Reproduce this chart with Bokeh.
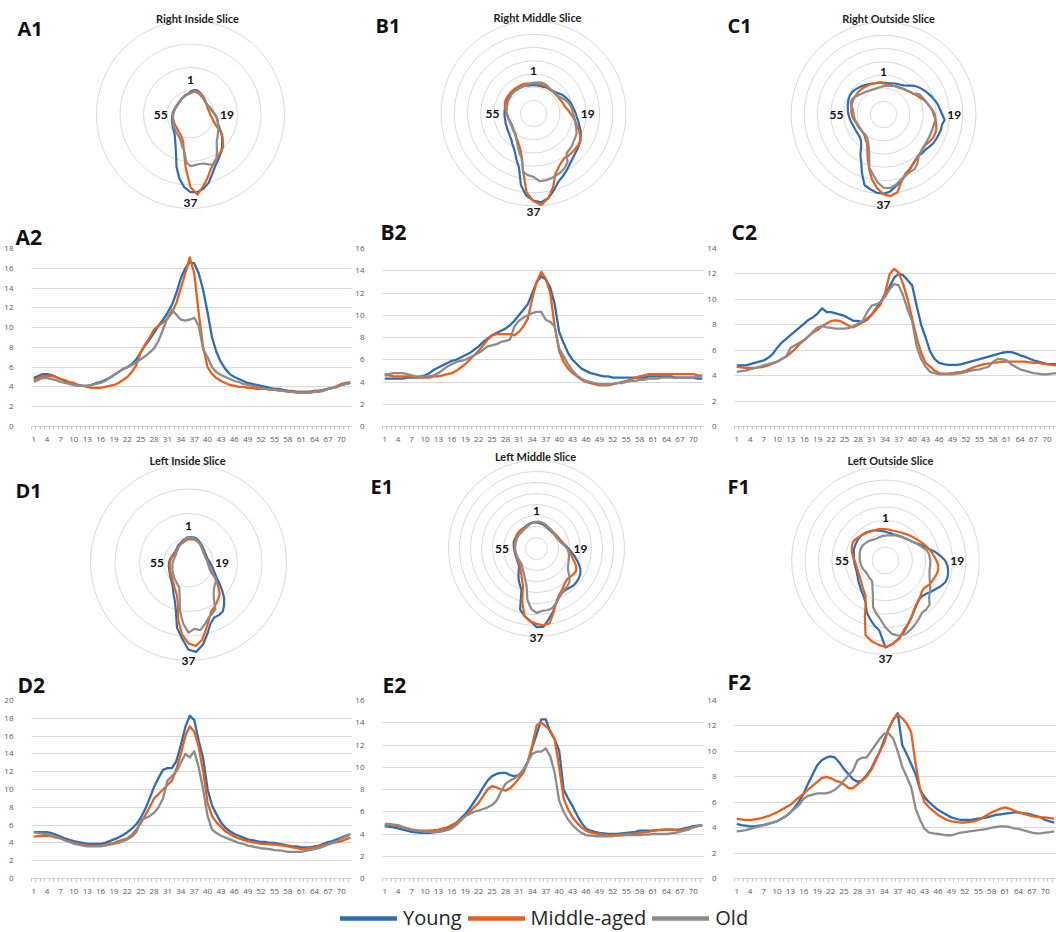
import numpy as np
from bokeh.plotting import figure
from bokeh.layouts import column, row
from bokeh.models import Label, FixedTicker, Range1d, Legend, LegendItem
from bokeh.core.properties import value
from bokeh.embed import file_html
from bokeh.resources import INLINE

# ---------------- data (positions 1..72) ----------------
positions = list(range(1, 73))
x_tick_labels = list(range(1, 71, 3))
series_names = ["Young", "Middle-aged", "Old"]

young_A = [4.9,5.1,5.3,5.3,5.2,5.0,4.8,4.6,4.4,4.2,4.1,4.1,
           4.1,4.2,4.4,4.5,4.7,4.9,5.2,5.5,5.8,6.0,6.3,6.8,
           7.5,8.2,8.8,9.5,10.2,10.8,11.5,12.3,13.5,15.0,16.0,16.6,
           16.5,15.5,13.8,11.5,9.0,7.5,6.5,5.8,5.3,5.0,4.8,4.6,
           4.4,4.3,4.2,4.1,4.0,3.9,3.8,3.8,3.7,3.6,3.6,3.5,
           3.5,3.5,3.5,3.6,3.6,3.7,3.8,3.9,4.0,4.2,4.3,4.4]
middle_A = [4.7,4.9,5.1,5.1,5.1,5.0,4.8,4.7,4.5,4.4,4.2,4.1,
            4.0,3.9,3.9,3.9,4.0,4.1,4.2,4.4,4.7,5.0,5.5,6.2,
            7.5,8.3,9.0,9.8,10.2,10.5,10.9,11.5,12.5,14.0,15.5,17.1,
            15.5,11.5,8.0,6.0,5.3,4.9,4.6,4.4,4.2,4.1,4.0,4.0,
            3.9,3.9,3.8,3.8,3.8,3.7,3.7,3.7,3.6,3.6,3.5,3.5,
            3.5,3.5,3.5,3.6,3.6,3.7,3.8,3.9,4.1,4.3,4.4,4.5]
old_A = [4.5,4.7,4.9,4.9,4.8,4.7,4.5,4.4,4.3,4.2,4.1,4.1,
         4.1,4.2,4.3,4.4,4.6,4.9,5.2,5.5,5.8,6.0,6.2,6.5,
         6.8,7.1,7.5,7.9,8.7,9.8,11.0,11.8,11.3,10.8,10.7,10.8,
         11.0,10.2,7.8,7.0,6.0,5.5,5.2,5.0,4.8,4.6,4.5,4.3,
         4.2,4.1,4.0,3.9,3.8,3.8,3.7,3.6,3.6,3.5,3.5,3.4,
         3.4,3.4,3.4,3.5,3.5,3.6,3.8,3.9,4.0,4.2,4.3,4.4]

young_B = [4.3,4.3,4.3,4.3,4.3,4.4,4.4,4.4,4.5,4.6,4.8,5.1,
           5.3,5.5,5.7,5.9,6.0,6.2,6.4,6.6,6.9,7.2,7.6,7.9,
           8.2,8.4,8.6,8.8,9.1,9.5,10.0,10.5,11.0,12.0,13.0,13.5,
           13.2,12.5,11.0,8.5,7.5,6.6,6.0,5.6,5.2,5.0,4.8,4.7,
           4.6,4.5,4.5,4.4,4.4,4.4,4.4,4.4,4.4,4.4,4.4,4.5,
           4.5,4.5,4.5,4.5,4.5,4.4,4.4,4.4,4.4,4.4,4.3,4.3]
middle_B = [4.6,4.6,4.5,4.5,4.5,4.5,4.5,4.4,4.4,4.4,4.4,4.5,
            4.5,4.6,4.7,4.8,5.0,5.3,5.6,6.0,6.4,6.8,7.3,7.8,
            8.2,8.3,8.3,8.3,8.3,8.2,8.5,9.0,9.7,11.5,13.0,13.9,
            13.3,12.0,9.0,6.8,5.8,5.2,4.8,4.5,4.2,4.0,3.9,3.8,
            3.7,3.7,3.7,3.8,3.9,4.0,4.1,4.2,4.4,4.5,4.6,4.7,
            4.7,4.7,4.7,4.7,4.7,4.7,4.7,4.7,4.7,4.7,4.6,4.6]
old_B = [4.7,4.7,4.8,4.8,4.8,4.7,4.6,4.5,4.5,4.5,4.5,4.6,
         4.8,5.1,5.4,5.6,5.8,5.9,6.0,6.2,6.4,6.6,6.9,7.2,
         7.3,7.4,7.6,7.7,7.8,9.0,9.5,9.8,10.0,10.2,10.3,10.3,
         9.6,9.4,9.0,7.0,6.3,5.6,5.0,4.6,4.3,4.1,4.0,3.9,
         3.8,3.8,3.8,3.8,3.9,3.9,4.0,4.1,4.1,4.2,4.2,4.3,
         4.3,4.3,4.4,4.4,4.4,4.4,4.4,4.4,4.4,4.4,4.5,4.5]

young_C = [4.8,4.8,4.8,4.9,5.0,5.1,5.2,5.4,5.7,6.2,6.6,6.9,
           7.2,7.5,7.8,8.1,8.4,8.6,8.9,9.3,9.0,9.0,8.9,8.8,
           8.7,8.5,8.3,8.3,8.2,8.4,8.8,9.3,9.8,10.4,11.0,11.7,
           12.0,11.9,11.5,11.1,9.5,8.0,7.0,5.9,5.3,5.0,4.9,4.85,
           4.85,4.85,4.9,5.0,5.1,5.2,5.3,5.4,5.5,5.6,5.7,5.8,
           5.85,5.85,5.75,5.6,5.5,5.35,5.2,5.1,5.0,4.9,4.9,4.9]
middle_C = [4.7,4.65,4.6,4.6,4.6,4.65,4.7,4.8,4.95,5.1,5.3,5.5,
            5.8,6.1,6.5,6.8,7.1,7.4,7.6,7.9,8.1,8.3,8.35,8.3,
            8.1,7.9,7.8,8.0,8.2,8.5,8.8,9.2,9.6,10.5,12.0,12.4,
            12.1,11.2,10.0,8.5,7.0,5.8,5.0,4.7,4.4,4.2,4.15,4.15,
            4.2,4.25,4.3,4.4,4.55,4.7,4.8,4.9,4.95,5.0,5.05,5.1,
            5.1,5.1,5.1,5.1,5.1,5.05,5.0,5.0,4.95,4.9,4.85,4.8]
old_C = [4.3,4.35,4.4,4.5,4.6,4.7,4.8,4.9,5.0,5.1,5.3,5.5,
         6.2,6.4,6.6,6.8,7.1,7.5,7.8,7.9,7.8,7.75,7.7,7.7,
         7.7,7.75,7.9,8.1,8.3,9.0,9.5,9.6,9.8,10.2,10.8,11.2,
         11.1,10.3,9.2,8.3,6.3,5.3,4.7,4.3,4.2,4.1,4.1,4.1,
         4.1,4.15,4.2,4.3,4.4,4.45,4.5,4.6,4.7,5.1,5.3,5.3,
         5.2,4.9,4.7,4.5,4.4,4.3,4.2,4.15,4.1,4.1,4.15,4.2]

young_D = [5.2,5.2,5.2,5.2,5.1,4.9,4.7,4.5,4.35,4.2,4.1,4.0,
           3.9,3.9,3.9,3.9,4.0,4.2,4.4,4.6,4.9,5.2,5.6,6.1,
           6.8,7.8,9.0,10.3,11.3,12.2,12.4,12.4,13.2,15.0,17.0,18.3,
           17.8,15.5,13.5,10.0,8.2,7.2,6.3,5.7,5.3,5.0,4.8,4.6,
           4.4,4.3,4.2,4.1,4.1,4.0,4.0,3.9,3.8,3.7,3.6,3.6,
           3.5,3.5,3.5,3.6,3.7,3.9,4.1,4.2,4.4,4.6,4.8,5.0]
middle_D = [4.7,4.75,4.8,4.8,4.75,4.6,4.5,4.3,4.15,4.0,3.9,3.8,
            3.7,3.7,3.7,3.7,3.8,3.9,4.0,4.2,4.35,4.5,4.9,5.5,
            6.2,7.1,8.0,9.0,9.5,10.0,10.5,11.0,12.3,14.0,16.0,17.1,
            16.5,14.8,12.0,8.5,7.0,6.3,5.8,5.3,5.0,4.7,4.5,4.35,
            4.2,4.1,4.0,3.9,3.9,3.85,3.8,3.75,3.7,3.6,3.5,3.4,
            3.3,3.3,3.4,3.5,3.6,3.75,3.9,4.0,4.1,4.2,4.4,4.6]
old_D = [5.2,5.1,5.05,5.0,4.85,4.7,4.5,4.3,4.1,3.9,3.8,3.7,
         3.6,3.6,3.6,3.6,3.7,3.8,3.9,4.0,4.2,4.4,4.7,5.2,
         6.5,6.8,7.0,7.4,8.0,9.0,11.0,11.5,12.0,13.0,14.0,13.6,
         14.3,12.5,10.0,7.0,5.5,5.1,4.8,4.6,4.4,4.2,4.0,3.9,
         3.7,3.6,3.5,3.4,3.35,3.3,3.2,3.15,3.1,3.0,3.0,3.0,
         3.0,3.1,3.2,3.3,3.4,3.6,3.8,4.0,4.2,4.5,4.7,5.0]

young_E = [4.7,4.65,4.6,4.5,4.4,4.3,4.2,4.15,4.1,4.1,4.1,4.15,
           4.2,4.3,4.5,4.7,5.0,5.4,5.8,6.3,6.9,7.5,8.2,8.8,
           9.2,9.4,9.5,9.5,9.3,9.2,9.3,9.7,10.5,11.8,13.0,14.3,
           14.3,13.2,12.5,11.5,8.0,7.2,6.5,5.7,5.0,4.5,4.3,4.2,
           4.1,4.05,4.0,4.0,4.0,4.05,4.1,4.15,4.2,4.3,4.3,4.3,
           4.3,4.35,4.35,4.4,4.4,4.4,4.4,4.5,4.6,4.7,4.75,4.8]
middle_E = [4.8,4.8,4.75,4.7,4.6,4.5,4.4,4.35,4.3,4.3,4.3,4.35,
            4.4,4.5,4.6,4.8,5.0,5.3,5.6,6.0,6.4,6.8,7.4,8.0,
            8.3,8.2,8.0,7.9,8.1,8.5,9.0,9.5,10.5,12.0,13.8,14.0,
            13.7,13.3,12.5,10.0,7.2,6.2,5.5,5.0,4.6,4.3,4.15,4.05,
            4.0,3.95,3.9,3.9,3.9,3.95,4.0,4.0,4.05,4.1,4.15,4.2,
            4.3,4.35,4.4,4.4,4.4,4.35,4.3,4.4,4.5,4.6,4.7,4.8]
old_E = [4.9,4.9,4.85,4.8,4.65,4.5,4.4,4.3,4.25,4.2,4.2,4.2,
         4.2,4.25,4.35,4.5,4.8,5.2,5.6,5.8,6.0,6.1,6.25,6.4,
         6.6,7.0,7.8,8.5,8.8,9.0,9.3,9.8,10.5,11.2,11.4,11.4,
         11.7,11.0,9.5,7.0,6.0,5.3,4.8,4.4,4.1,3.9,3.85,3.8,
         3.8,3.8,3.8,3.8,3.85,3.85,3.9,3.9,3.9,3.9,3.95,3.95,
         4.0,4.0,4.0,4.0,4.05,4.1,4.2,4.3,4.4,4.6,4.7,4.8]

young_F = [4.3,4.2,4.15,4.1,4.1,4.15,4.2,4.3,4.4,4.5,4.7,4.9,
           5.2,5.6,6.1,6.7,7.5,8.2,8.9,9.3,9.5,9.6,9.5,9.1,
           8.6,8.2,7.8,7.6,7.7,8.1,8.6,9.3,10.0,10.9,11.8,12.5,
           13.0,10.5,9.8,9.0,8.2,7.0,6.4,6.0,5.7,5.4,5.2,5.0,
           4.8,4.7,4.6,4.6,4.6,4.65,4.7,4.75,4.8,4.9,5.0,5.05,
           5.1,5.15,5.2,5.2,5.15,5.1,5.0,4.9,4.8,4.6,4.5,4.4]
middle_F = [4.7,4.65,4.6,4.6,4.65,4.7,4.8,4.9,5.05,5.2,5.4,5.6,
            5.8,6.1,6.4,6.7,7.0,7.3,7.6,7.9,8.0,7.9,7.7,7.6,
            7.4,7.1,7.1,7.4,7.7,8.0,8.5,9.2,10.0,10.7,11.8,12.5,
            12.9,12.6,12.2,11.5,9.0,7.0,6.0,5.6,5.3,5.0,4.8,4.6,
            4.5,4.45,4.4,4.4,4.45,4.5,4.6,4.8,5.0,5.2,5.35,5.5,
            5.6,5.5,5.35,5.2,5.1,5.0,4.9,4.85,4.8,4.8,4.75,4.7]
old_F = [3.7,3.75,3.8,3.9,4.0,4.1,4.2,4.3,4.4,4.5,4.7,4.9,
         5.2,5.5,5.8,6.3,6.5,6.6,6.7,6.7,6.7,6.8,7.0,7.3,
         7.7,8.1,8.5,9.3,9.5,9.5,10.0,10.5,11.0,11.4,11.4,11.0,
         10.0,8.8,8.0,7.2,5.5,4.6,3.9,3.6,3.55,3.5,3.45,3.4,
         3.4,3.5,3.6,3.65,3.7,3.75,3.8,3.85,3.9,4.0,4.05,4.1,
         4.1,4.05,3.95,3.9,3.8,3.7,3.6,3.55,3.55,3.6,3.65,3.7]

radar_titles = ["Right Inside Slice", "Right Middle Slice", "Right Outside Slice",
                "Left Inside Slice", "Left Middle Slice", "Left Outside Slice"]
radar_marks = [1, 19, 37, 55]

# ---------------- styling ----------------
FONT = "Open Sans"
TFONT = "Lato"
COLORS = ["#2E6DB4", "#E8601C", "#8C8C8C"]
RING = "#D9D9D9"
OVERLAP = 16   # line-chart rows slide up under the radar rows by this many px


def add_tag(p, x, y, text, size="20px"):
    p.add_layout(Label(x=x, y=y, text=text, text_font=FONT, text_font_style="bold",
                       text_font_size=size, text_color="#111111",
                       text_align="left", text_baseline="middle"))


def radar(W, H, cx, cy, s, step, nring, data, title, tag, title_xy, tag_xy,
          tag2=None, tag2_xy=None):
    p = figure(width=W, height=H, output_backend="svg", toolbar_location=None,
               x_range=Range1d(-cx / s, (W - cx) / s),
               y_range=Range1d(-(H - cy) / s, cy / s),
               x_axis_location=None, y_axis_location=None, min_border=0)
    p.outline_line_color = None
    p.grid.visible = False
    rings = [step * (k + 1) for k in range(nring)]
    p.circle(x=[0] * nring, y=[0] * nring, radius=rings, fill_color=None,
             line_color=RING, line_width=1)
    th = np.deg2rad((np.array(positions) - 1) * 360.0 / len(positions))
    for vals, col in zip(data, COLORS):
        v = np.array(vals + vals[:1])
        t = np.append(th, th[0])
        p.line(v * np.sin(t), v * np.cos(t), line_color=col, line_width=2.2,
               line_join="round")
    lx, ly, lt, xo, yo = [], [], [], [], []
    for m in radar_marks:
        i = m - 1
        r = max(d[i] for d in data)
        a = th[i]
        lx.append(r * np.sin(a)); ly.append(r * np.cos(a)); lt.append(str(m))
        xo.append(12 * np.sin(a)); yo.append(-11 * np.cos(a))
    p.text(x=lx, y=ly, text=lt, x_offset=xo, y_offset=yo,
           text_font=value(TFONT), text_font_style="bold", text_font_size="12px",
           text_color="#111111", text_align="center", text_baseline="middle")
    tx, ty = title_xy
    p.add_layout(Label(x=(tx - cx) / s, y=(cy - ty) / s, text=title,
                       text_font=TFONT, text_font_style="bold", text_font_size="11px",
                       text_color="#222222", text_align="center", text_baseline="middle"))
    gx, gy = tag_xy
    add_tag(p, (gx - cx) / s, (cy - gy) / s, tag)
    if tag2 is not None:
        gx, gy = tag2_xy
        add_tag(p, (gx - cx) / s, (cy - gy) / s, tag2, "21px")
    return p


def linechart(W, H, fl, ft, fb, fr, ymax, data, xr=(0.5, 72.5)):
    p = figure(width=W, height=H, output_backend="svg", toolbar_location=None,
               x_range=Range1d(*xr), y_range=Range1d(0, ymax),
               min_border_left=fl, min_border_right=fr,
               min_border_top=ft, min_border_bottom=fb,
               border_fill_color=None)
    p.outline_line_color = None
    p.xgrid.visible = False
    p.ygrid.grid_line_color = RING
    p.ygrid.grid_line_width = 1
    p.yaxis.ticker = FixedTicker(ticks=list(range(0, ymax + 1, 2)))
    p.yaxis.axis_line_color = None
    p.yaxis.major_tick_line_color = None
    p.yaxis.minor_tick_line_color = None
    p.yaxis.major_label_standoff = 12
    p.yaxis.major_label_text_font = FONT
    p.yaxis.major_label_text_font_size = "8px"
    p.yaxis.major_label_text_color = "#595959"
    p.xaxis.ticker = FixedTicker(ticks=x_tick_labels,
                                 minor_ticks=[k + 0.5 for k in range(0, 73)])
    p.xaxis.axis_line_color = "#D0D0D0"
    p.xaxis.major_tick_line_color = None
    p.xaxis.minor_tick_line_color = "#C8C8C8"
    p.xaxis.minor_tick_out = 3
    p.xaxis.minor_tick_in = 0
    p.xaxis.major_label_standoff = 4
    p.xaxis.major_label_text_font = FONT
    p.xaxis.major_label_text_font_size = "8px"
    p.xaxis.major_label_text_color = "#595959"
    for vals, col in zip(data, COLORS):
        p.line(positions, vals, line_color=col, line_width=2.3, line_join="round")
    return p


A = [young_A, middle_A, old_A]
B = [young_B, middle_B, old_B]
C = [young_C, middle_C, old_C]
D = [young_D, middle_D, old_D]
E = [young_E, middle_E, old_E]
F = [young_F, middle_F, old_F]

# page has no margin; columns 352 px each.
# radar row 1: 0..252 ; line row 1: 236..445 ; radar row 2: 445..700 ;
# line row 2: 684..896 ; legend 896..931
rA = radar(352, 252, 190, 114, 4.7, 5, 4, A, radar_titles[0], "A1", (197, 18), (17, 28),
           "A2", (15, 236))
rB = radar(352, 252, 181, 113, 6.6, 2, 7, B, radar_titles[1], "B1", (185, 17), (23, 25),
           "B2", (28, 231))
rC = radar(352, 252, 179, 114, 6.6, 2, 7, C, radar_titles[2], "C1", (184, 18), (23, 25),
           "C2", (27, 231))

lA = linechart(352, 209, 31, 11, 18, 0, 18, A)
lB = linechart(352, 209, 28, 12, 19, 0, 16, B)
lC = linechart(352, 209, 30, 12, 18, 0, 14, C, xr=(0.5, 72.1))

rD = radar(352, 255, 188, 117, 4.9, 5, 4, D, radar_titles[3], "D1", (187, 15), (15, 45),
           "D2", (17, 239))
rE = radar(352, 255, 184, 103, 5.5, 2, 8, E, radar_titles[4], "E1", (183, 11), (18, 41),
           "E2", (30, 239))
rF = radar(352, 255, 181, 115, 6.7, 2, 7, F, radar_titles[5], "F1", (186, 15), (23, 41),
           "F2", (23, 236))

lD = linechart(352, 212, 31, 15, 16, 0, 20, D)
lE = linechart(352, 212, 28, 16, 18, 0, 16, E)
lF = linechart(352, 212, 27, 16, 18, 0, 14, F, xr=(0.5, 72.5))

leg = figure(width=1056, height=35, output_backend="svg", toolbar_location=None,
             x_axis_location=None, y_axis_location=None, min_border=0,
             x_range=Range1d(0, 1), y_range=Range1d(0, 1))
leg.outline_line_color = None
leg.grid.visible = False
items = []
for name, col in zip(series_names, COLORS):
    r = leg.line(x=[5, 6], y=[5, 6], line_color=col, line_width=4.5, line_cap="round")
    items.append(LegendItem(label=name, renderers=[r]))
legend = Legend(items=items, orientation="horizontal", location=(340, 0),
                glyph_width=57, glyph_height=18, label_height=18, label_standoff=6,
                spacing=6, padding=0, margin=0, border_line_color=None,
                background_fill_alpha=0, label_text_font=FONT,
                label_text_font_size="20px", label_text_color="#262626")
leg.add_layout(legend)

layout = column(row(rA, rB, rC),
                row(lA, lB, lC, margin=(-OVERLAP, 0, 0, 0)),
                row(rD, rE, rF),
                row(lD, lE, lF, margin=(-OVERLAP, 0, 0, 0)),
                leg)

open("out.html", "w").write(file_html(layout, INLINE))
